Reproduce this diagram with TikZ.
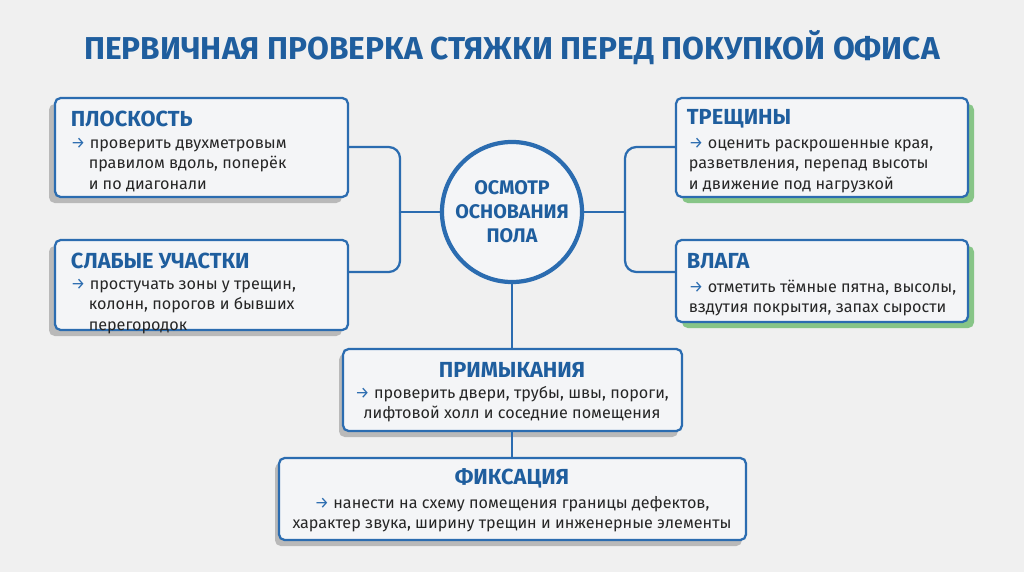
\documentclass[tikz,border=0pt]{standalone}
\usepackage{fontspec}
\setmainfont{Fira Sans}
\begin{document}
\begin{tikzpicture}[x=0.025cm,y=-0.025cm,
  box/.style={draw=bblue,line width=1.6pt,rounded corners=4pt,fill=boxbg},
  lsh/.style={fill=gray!55,rounded corners=4pt},
  rsh/.style={fill=green!35!gray!70,rounded corners=4pt},
  head/.style={anchor=west,text=hblue,font=\fontsize{15.5}{17}\selectfont\bfseries},
  body/.style={anchor=north west,align=left,text=black!85,font=\fontsize{11.5}{14.5}\selectfont},
  cbody/.style={anchor=north,align=center,text=black!85,font=\fontsize{11.5}{14.5}\selectfont},
  conn/.style={draw=bblue,line width=1.6pt,rounded corners=8pt}]
\definecolor{bblue}{HTML}{2B6CB0}
\definecolor{hblue}{HTML}{1F5E9E}
\definecolor{boxbg}{HTML}{F4F5F7}
\fill[black!6] (0,0) rectangle (1024,572);
\useasboundingbox (0,0) rectangle (1024,572);
\node[text=hblue,font=\fontsize{22.5}{26}\selectfont\bfseries] (title) at (512,48) {ПЕРВИЧНАЯ ПРОВЕРКА СТЯЖКИ ПЕРЕД ПОКУПКОЙ ОФИСА};
% shadows
\fill[lsh] (49,104) rectangle (342,203);
\fill[lsh] (49,246) rectangle (342,336);
\fill[rsh] (682,104) rectangle (974,203);
\fill[rsh] (682,246) rectangle (974,328);
\fill[lsh] (339,354) rectangle (678,437);
\fill[lsh] (275,463) rectangle (742,546);
% boxes
\draw[box] (55,98) rectangle (348,197);
\node[coordinate] (p1) at (348,147) {};
\node[head] (h1) at (66,119) {ПЛОСКОСТЬ};
\node[body] (t1) at (66,133) {\textcolor{bblue}{→} проверить двухметровым\\\hspace{1.1em}правилом вдоль, поперёк\\\hspace{1.1em}и по диагонали};
\draw[box] (55,240) rectangle (348,330);
\node[coordinate] (p2) at (348,272) {};
\node[head] (h2) at (66,261) {СЛАБЫЕ УЧАСТКИ};
\node[body] (t2) at (66,274) {\textcolor{bblue}{→} простучать зоны у трещин,\\\hspace{1.1em}колонн, порогов и бывших\\\hspace{1.1em}перегородок};
\draw[box] (676,98) rectangle (968,197);
\node[coordinate] (p3) at (676,147) {};
\node[head] (h3) at (682,119) {ТРЕЩИНЫ};
\node[body] (t3) at (684,133) {\textcolor{bblue}{→} оценить раскрошенные края,\\разветвления, перепад высоты\\и движение под нагрузкой};
\draw[box] (676,240) rectangle (968,322);
\node[coordinate] (p4) at (676,272) {};
\node[head] (h4) at (682,261) {ВЛАГА};
\node[body] (t4) at (684,275) {\textcolor{bblue}{→} отметить тёмные пятна, высолы,\\вздутия покрытия, запах сырости};
\draw[box] (343,349) rectangle (682,431);
\node[head,anchor=center] (h5) at (512,370) {ПРИМЫКАНИЯ};
\node[cbody] (t5) at (512,381) {\textcolor{bblue}{→} проверить двери, трубы, швы, пороги,\\лифтовой холл и соседние помещения};
\node[coordinate] (q5t) at (512,349) {};
\node[coordinate] (q5b) at (512,431) {};
\draw[box] (279,458) rectangle (746,540);
\node[coordinate] (q6t) at (512,458) {};
\node[head,anchor=center] (h6) at (512,478) {ФИКСАЦИЯ};
\node[cbody] (t6) at (512,491) {\textcolor{bblue}{→} нанести на схему помещения границы дефектов,\\характер звука, ширину трещин и инженерные элементы};
% circle
\node[circle,draw=bblue,line width=3pt,fill=boxbg,minimum size=3.5cm,inner sep=0pt,align=center,text=hblue,font=\fontsize{14}{17}\selectfont\bfseries] (c) at (512,212) {ОСМОТР\\ОСНОВАНИЯ\\ПОЛА};
% connectors
\draw[conn] (p1) -| (400,212);
\draw[conn] (p2) -| (400,212);
\draw[conn] (400,212) -- (c.west);
\draw[conn] (p3) -| (625,212);
\draw[conn] (p4) -| (625,212);
\draw[conn] (625,212) -- (c.east);
\draw[conn] (c.south) -- (q5t);
\draw[conn] (q5b) -- (q6t);
\end{tikzpicture}
\end{document}
